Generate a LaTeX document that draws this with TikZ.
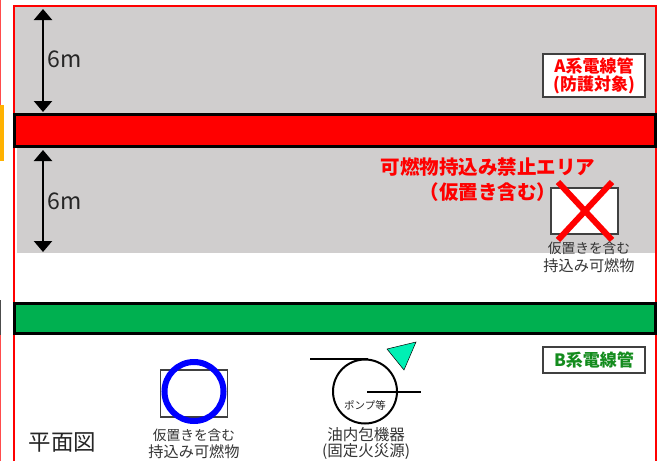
\documentclass[tikz,border=0pt]{standalone}
\usepackage{fontspec}
\setmainfont{Noto Sans CJK JP}
\usetikzlibrary{arrows.meta}
\definecolor{areagray}{RGB}{208,206,206}
\definecolor{pipegreen}{RGB}{0,176,80}
\definecolor{labelgreen}{RGB}{20,140,30}
\definecolor{firemark}{RGB}{0,240,180}
\tikzset{
  pipebar/.style={draw=black,line width=3pt},
  tagbox/.style={draw=black!75,line width=1.5pt,fill=white},
  dimline/.style={{Triangle[width=18pt,length=11pt]}-{Triangle[width=18pt,length=11pt]},line width=2.3pt},
  smalltext/.style={font=\fontsize{13.7}{15}\selectfont,text=black!80,inner sep=0pt},
  widetext/.style={font=\fontsize{15.2}{17}\selectfont,text=black!80,inner sep=0pt},
  redtext/.style={font=\fontsize{17}{19}\bfseries\selectfont,text=red,inner sep=0pt},
  bigred/.style={font=\fontsize{19.5}{22}\bfseries\selectfont,text=red,inner sep=0pt},
  dimtext/.style={inner sep=0pt,font=\fontsize{23}{25}\selectfont,text=black!85},
}
\begin{document}
\begin{tikzpicture}[x=1pt,y=-1pt]
\useasboundingbox (0,0) rectangle (661,461);
% page edges
\draw[red!70,line width=1pt] (.5,0)--(.5,105);
\fill[orange!60!yellow] (0,105) rectangle (4,161);
\draw[black!70,line width=1pt] (.5,300)--(.5,335);
\draw[red!70,line width=1pt] (.5,335)--(.5,461);

% gray areas
\fill[areagray] (15,7) rectangle (655,114);
\fill[areagray] (17,147) rectangle (655,253);
\draw[red,line width=1.3pt] (14,461)--(14,6)--(656,6)--(656,461);

% pipes
\draw[pipebar,fill=red] (14.5,114.5) rectangle (655.5,146.5);
\draw[pipebar,fill=pipegreen] (14.5,303.5) rectangle (655.5,333.5);

% dimensions
\coordinate (up1) at (43,9);
\coordinate (dn1) at (43,112);
\coordinate (up2) at (43,150);
\coordinate (dn2) at (43,252);
\draw[dimline] (up1)--(dn1);
\draw[dimline] (up2)--(dn2);
\node[dimtext] (dimA) at (65,59){6m};
\node[dimtext] (dimB) at (65,201){6m};

% A pipe label
\node[tagbox,minimum width=102pt,minimum height=43pt] (tagA) at (594,75.5){};
\node[redtext] (tagAa) at (594,66){A系電線管};
\node[redtext] (tagAb) at (594,85){(防護対象)};

% no-go area
\node[bigred] (nogoA) at (488,167){可燃物持込み禁止エリア};
\node[bigred] (nogoB) at (488,192){（仮置き含む）};

% banned combustible
\node[tagbox,minimum width=67pt,minimum height=46pt] (boxA) at (584.5,211){};
\coordinate (xa) at (558,182);
\coordinate (xb) at (612,240);
\coordinate (xc) at (612,182);
\coordinate (xd) at (558,240);
\draw[red,line width=6pt] (xa)--(xb);
\draw[red,line width=6pt] (xc)--(xd);
\node[smalltext] (boxAa) at (589,248){仮置きを含む};
\node[widetext] (boxAb) at (589,266){持込み可燃物};

% B pipe label
\node[tagbox,minimum width=102pt,minimum height=26pt] (tagB) at (594,360){};
\node[redtext,text=labelgreen] (tagBa) at (594,360){B系電線管};

% allowed combustible
\node[draw=black!75,line width=1.5pt,minimum width=67pt,minimum height=47pt] (boxB) at (194,393.5){};
\node[circle,draw=blue,line width=6pt,minimum size=59pt,inner sep=0pt] (ringB) at (194,391.5){};
\node[smalltext] (boxBa) at (194,435){仮置きを含む};
\node[widetext] (boxBb) at (194,452){持込み可燃物};

% pump
\node[circle,draw=black,line width=2pt,minimum size=64pt,inner sep=0pt] (pump) at (365,391.5){};
\coordinate (inS) at (310,359);
\coordinate (inE) at (368,359);
\coordinate (outS) at (367,392);
\coordinate (outE) at (421,392);
\draw[line width=2pt] (inS)--(inE);
\draw[line width=2pt] (outS)--(outE);
\node[inner sep=0pt,font=\fontsize{10.5}{12}\selectfont,text=black!85] (pumpT) at (365,405){ポンプ等};
\coordinate (fa) at (387,349);
\coordinate (fb) at (416,342);
\coordinate (fc) at (404,370);
\draw[fill=firemark,line width=.5pt] (fa)--(fb)--(fc)--cycle;
\node[widetext,font=\fontsize{15.5}{17}\selectfont] (pumpA) at (366,435){油内包機器};
\node[widetext,font=\fontsize{15.5}{17}\selectfont] (pumpB) at (366,452){(固定火災源)};

\node[inner sep=0pt,font=\fontsize{22.5}{24}\selectfont,text=black!85] (plan) at (62.5,442){平面図};
\end{tikzpicture}
\end{document}
